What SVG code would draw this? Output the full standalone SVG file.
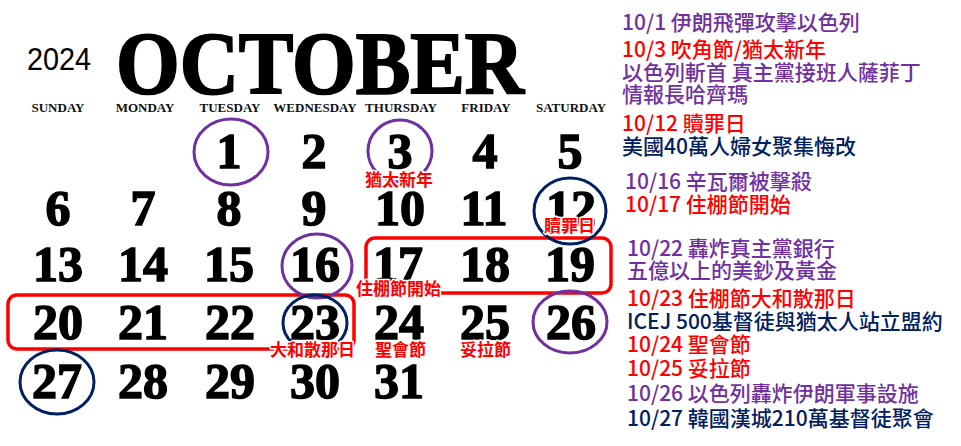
<svg xmlns="http://www.w3.org/2000/svg" width="961" height="446" viewBox="0 0 961 446">
<style>
.num{font-family:"Liberation Serif","DejaVu Serif",serif;font-weight:bold;font-size:50px;text-anchor:middle;fill:#000;stroke:#000;stroke-width:1.5px}
.day{font-family:"Liberation Serif","DejaVu Serif",serif;font-weight:bold;font-size:13px;text-anchor:middle;fill:#111}
.lbl{font-family:"Noto Sans CJK TC","Noto Sans CJK SC",sans-serif;font-weight:bold;font-size:17px;fill:#FF0000;stroke:#fff;stroke-width:3px;paint-order:stroke;stroke-linejoin:round}
.ev{font-family:"Noto Sans CJK TC","Noto Sans CJK SC",sans-serif;font-size:21px;font-weight:500}
.pu{fill:#7030A0}.rd{fill:#FF0000}.nv{fill:#002060}
.cp{fill:none;stroke:#7030A0;stroke-width:3px}
.cn{fill:none;stroke:#002060;stroke-width:3px}
.box{fill:none;stroke:#FF0000;stroke-width:3.5px}
</style>
<rect width="961" height="446" fill="#fff"/>
<g id="header">
<text x="27" y="70" font-family="Liberation Sans, Arial, sans-serif" font-size="32" textLength="64" lengthAdjust="spacingAndGlyphs" fill="#000">2024</text>
<text x="116" y="93" font-family="Liberation Serif, DejaVu Serif, serif" font-weight="bold" font-size="88" textLength="408" lengthAdjust="spacingAndGlyphs" fill="#000" stroke="#000" stroke-width="2">OCTOBER</text>
</g>
<g id="weekdays">
<text class="day" x="58" y="112">SUNDAY</text>
<text class="day" x="145" y="112">MONDAY</text>
<text class="day" x="230" y="112">TUESDAY</text>
<text class="day" x="315" y="112">WEDNESDAY</text>
<text class="day" x="401" y="112">THURSDAY</text>
<text class="day" x="486" y="112">FRIDAY</text>
<text class="day" x="571" y="112">SATURDAY</text>
</g>
<g id="boxes">
<rect id="sukkot-box" class="box" x="366" y="238" width="245" height="55" rx="9"/>
<rect id="hoshana-box" class="box" x="8" y="295" width="346" height="54" rx="9"/>
</g>
<g id="circles">
<ellipse id="c1" class="cp" cx="231" cy="152" rx="37" ry="33"/>
<ellipse id="c3" class="cp" cx="400" cy="151" rx="32" ry="31"/>
<ellipse id="c12" class="cn" cx="570" cy="211" rx="36" ry="33"/>
<ellipse id="c16" class="cp" cx="317" cy="266" rx="35" ry="32"/>
<ellipse id="c23" class="cn" cx="315" cy="323" rx="32" ry="28"/>
<ellipse id="c26" class="cp" cx="570" cy="322" rx="37" ry="31"/>
<ellipse id="c27" class="cn" cx="57" cy="382" rx="37" ry="32"/>
</g>
<g id="dates">
<text class="num" x="229" y="168">1</text>
<text class="num" x="314" y="168">2</text>
<text class="num" x="400" y="168">3</text>
<text class="num" x="485" y="168">4</text>
<text class="num" x="570" y="168">5</text>
<text class="num" x="58" y="225">6</text>
<text class="num" x="143" y="225">7</text>
<text class="num" x="229" y="225">8</text>
<text class="num" x="314" y="225">9</text>
<text class="num" x="400" y="225">10</text>
<text class="num" x="484" y="225">11</text>
<text class="num" x="571" y="225">12</text>
<text class="num" x="58" y="281">13</text>
<text class="num" x="143" y="281">14</text>
<text class="num" x="229" y="281">15</text>
<text class="num" x="315" y="281">16</text>
<text class="num" x="398" y="281">17</text>
<text class="num" x="485" y="281">18</text>
<text class="num" x="570" y="281">19</text>
<text class="num" x="58" y="339">20</text>
<text class="num" x="143" y="339">21</text>
<text class="num" x="230" y="339">22</text>
<text class="num" x="315" y="339">23</text>
<text class="num" x="399" y="339">24</text>
<text class="num" x="485" y="339">25</text>
<text class="num" x="571" y="339">26</text>
<text class="num" x="57" y="398">27</text>
<text class="num" x="143" y="398">28</text>
<text class="num" x="230" y="398">29</text>
<text class="num" x="315" y="398">30</text>
<text class="num" x="399" y="398">31</text>
</g>
<g id="day-labels">
<text class="lbl" x="365" y="186">猶太新年</text>
<text class="lbl" x="544" y="232">贖罪日</text>
<text class="lbl" x="356" y="295">住棚節開始</text>
<text class="lbl" x="270" y="356">大和散那日</text>
<text class="lbl" x="375" y="356">聖會節</text>
<text class="lbl" x="460" y="356">妥拉節</text>
</g>
<g id="events">
<text class="ev pu" x="622" y="30">10/1 伊朗飛彈攻擊以色列</text>
<text class="ev rd" x="622" y="57">10/3 吹角節/猶太新年</text>
<text class="ev pu" x="622" y="80">以色列斬首 真主黨接班人薩菲丁</text>
<text class="ev pu" x="622" y="102">情報長哈齊瑪</text>
<text class="ev rd" x="622" y="131">10/12 贖罪日</text>
<text class="ev nv" x="622" y="154">美國40萬人婦女聚集悔改</text>
<text class="ev pu" x="625" y="189">10/16 辛瓦爾被擊殺</text>
<text class="ev rd" x="625" y="212">10/17 住棚節開始</text>
<text class="ev pu" x="627" y="256">10/22 轟炸真主黨銀行</text>
<text class="ev pu" x="627" y="278">五億以上的美鈔及黃金</text>
<text class="ev rd" x="627" y="306">10/23 住棚節大和散那日</text>
<text class="ev nv" x="627" y="329">ICEJ 500基督徒與猶太人站立盟約</text>
<text class="ev rd" x="627" y="352">10/24 聖會節</text>
<text class="ev rd" x="627" y="376">10/25 妥拉節</text>
<text class="ev pu" x="627" y="401">10/26 以色列轟炸伊朗軍事設施</text>
<text class="ev nv" x="627" y="426">10/27 韓國漢城210萬基督徒聚會</text>
</g>
<g id="connectors"/>
</svg>
